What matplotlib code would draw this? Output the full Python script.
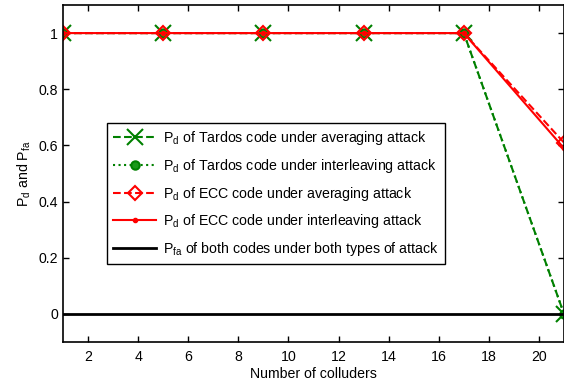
import matplotlib
matplotlib.use("Agg")
import matplotlib.pyplot as plt

plt.rcParams['font.family'] = ['Liberation Sans', 'DejaVu Sans']
plt.rcParams['mathtext.fontset'] = 'custom'
plt.rcParams['mathtext.rm'] = 'Liberation Sans'
plt.rcParams['mathtext.it'] = 'Liberation Sans'

colluders = [1, 5, 9, 13, 17, 21]
tardosAvg = [1, 1, 1, 1, 1, 0]
tardosInt = [1, 1, 1, 1, 1, 0]
eccAvg = [1, 1, 1, 1, 1, 0.61]
eccInt = [1, 1, 1, 1, 1, 0.59]
pfa = [0, 0, 0, 0, 0, 0]

labels = [r'$\mathregular{P_d}$ of Tardos code under averaging attack',
          r'$\mathregular{P_d}$ of Tardos code under interleaving attack',
          r'$\mathregular{P_d}$ of ECC code under averaging attack',
          r'$\mathregular{P_d}$ of ECC code under interleaving attack',
          r'$\mathregular{P_{fa}}$ of both codes under both types of attack']

green = (0, 0.5, 0)
red = (1, 0, 0)
fs = 10.2

fig = plt.figure(figsize=(5.64, 3.83), dpi=100)
ax = fig.add_axes([63 / 564, 41 / 383, 501 / 564, 337 / 383])

ax.plot(colluders, tardosAvg, '--', color=green, lw=1.5, marker='x', ms=11, mew=1.5, label=labels[0])
ax.plot(colluders, tardosInt, ':', color=green, lw=1.5, marker='o', ms=6, mew=1.5,
        mfc=(0.1, 0.6, 0.1), label=labels[1])
ax.plot(colluders, eccAvg, '--', color=red, lw=1.5, marker='D', ms=7, mew=1.5, mfc='none', label=labels[2])
ax.plot(colluders, eccInt, '-', color=red, lw=1.5, marker='.', ms=6, label=labels[3])
ax.plot(colluders, pfa, '-', color='black', lw=2, label=labels[4])

ax.set_xlim(1, 21)
ax.set_ylim(-0.1, 1.1)
ax.set_xticks(range(2, 21, 2))
ax.set_yticks([0, 0.2, 0.4, 0.6, 0.8, 1])
ax.set_yticklabels(['0', '0.2', '0.4', '0.6', '0.8', '1'])
ax.tick_params(direction='in', top=True, right=True, labelsize=fs, length=4, width=1)
ax.tick_params(axis='x', pad=6)
for s in ax.spines.values():
    s.set_linewidth(1.2)

ax.set_xlabel('Number of colluders', fontsize=fs, labelpad=2)
ax.set_ylabel(r'$\mathregular{P_d}$ and $\mathregular{P_{fa}}$', fontsize=fs, labelpad=4)

leg = ax.legend(loc='upper left', bbox_to_anchor=(0.088, 0.65), fontsize=fs, handlelength=3.0,
                frameon=True, fancybox=False, edgecolor='black', framealpha=1,
                borderpad=0.45, labelspacing=0.68, handletextpad=0.5, borderaxespad=0)
leg.get_frame().set_linewidth(1)

fig.savefig('out.png', dpi=100)
